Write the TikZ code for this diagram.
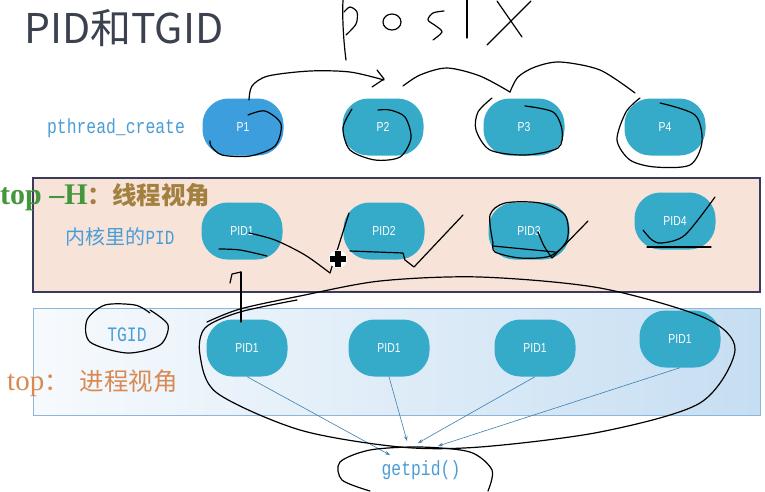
\documentclass[tikz,border=0pt]{standalone}
\usepackage{fontspec}
\setmainfont{Liberation Sans}
\newfontfamily\cjkfont{Noto Sans CJK SC}
\newfontfamily\monofont{Liberation Mono}[FakeStretch=0.8]
\newfontfamily\narrowfont{Liberation Sans}[FakeStretch=0.8]
\newfontfamily\seriffont{Liberation Serif}
\usetikzlibrary{arrows.meta}

\definecolor{nodeteal}{HTML}{36ABC9}
\definecolor{nodeblue}{HTML}{3C9EDD}
\definecolor{pinkbg}{HTML}{F8E3D9}
\definecolor{frame}{HTML}{3A3A5C}
\definecolor{bluebgL}{HTML}{F7FAFD}
\definecolor{bluebgR}{HTML}{C6DEF2}
\definecolor{blueframe}{HTML}{8DB6DA}
\definecolor{labelblue}{HTML}{4A9DD6}
\definecolor{arrowblue}{HTML}{3E7FB0}
\definecolor{titlegray}{HTML}{3C4150}
\definecolor{topgreen}{HTML}{45973E}
\definecolor{topbrown}{HTML}{A2803F}
\definecolor{toporange}{HTML}{D88A52}

\tikzset{
  pbox/.style={rectangle, rounded corners=26pt, minimum width=81pt, minimum height=57pt,
    fill=nodeteal, text=white, inner sep=0pt, font=\narrowfont\fontsize{13}{13}\selectfont},
  monolabel/.style={inner sep=0pt, text=labelblue, font=\monofont\fontsize{20.5}{20.5}\selectfont},
  ink/.style={line width=1.2pt, line cap=round, line join=round, black},
  getarrow/.style={arrowblue, line width=0.6pt, -{Stealth[length=5pt,width=3.5pt]}},
}

\begin{document}
\begin{tikzpicture}[x=1pt,y=-1pt]
		%%%%% START %%%%%
		\useasboundingbox (0,0) rectangle (765,491);
		\fill[white] (0,0) rectangle (765,491);
		
		\node[anchor=base west, inner sep=0pt, text=titlegray, font=\cjkfont\fontsize{41}{41}\selectfont] (title) at (24,43) {PID和TGID};
		
		\draw[fill=pinkbg, draw=frame, line width=1.5pt] (33,178) rectangle (760,292);
		\shade[left color=bluebgL, right color=bluebgR] (33,308) rectangle (760,415);
		\draw[blueframe, line width=1pt] (33,308) rectangle (760,415);
		
		\node[monolabel] (pthr) at (116,128) {pthread\_create};
		\node[inner sep=0pt, text=labelblue, font=\cjkfont\fontsize{20}{20}\selectfont] (kern) at (120,237) {内核里的{\monofont PID}};
		\node[monolabel] (tgid) at (127,335) {TGID};
		\node[monolabel] (getpid) at (421,470) {getpid()};
		
		\node[anchor=west, inner sep=0pt, font=\fontsize{24.5}{24.5}\selectfont] (toph) at (0,197)
			{\textcolor{topgreen}{\seriffont\bfseries\fontsize{30}{30}\selectfont top –H}\textcolor{topbrown}{\cjkfont\bfseries ：线程视角}};
		\node[anchor=west, inner sep=0pt, text=toporange, font=\fontsize{24.5}{24.5}\selectfont] (topp) at (7,383)
			{{\seriffont\fontsize{29}{29}\selectfont top}{\cjkfont ：\ \ 进程视角}};
		
		\node[pbox, fill=nodeblue] (p1) at (243,127) {P1};
		\node[pbox] (p2) at (383,127) {P2};
		\node[pbox] (p3) at (524,127) {P3};
		\node[pbox] (p4) at (665,127) {P4};
		
		\node[pbox] (k1) at (242,231) {PID1};
		\node[pbox] (k2) at (384,231) {PID2};
		\node[pbox] (k3) at (529,231) {PID3};
		\node[pbox] (k4) at (675,221) {PID4};
		
		\node[pbox] (t1) at (247,348) {PID1};
		\node[pbox] (t2) at (389,348) {PID1};
		\node[pbox] (t3) at (535,348) {PID1};
		\node[pbox] (t4) at (680,339) {PID1};
		
		\coordinate (ga) at (390,455);
		\coordinate (gb) at (407,441);
		\coordinate (gc) at (418,443);
		\coordinate (gd) at (438,446);
		\draw[getarrow] (t1.south) -- (ga);
		\draw[getarrow] (t2.south) -- (gb);
		\draw[getarrow] (t3.south) -- (gc);
		\draw[getarrow] (t4.south) -- (gd);
		
		% posix
		\draw[ink] (343,0) .. controls (342,20) and (344,45) .. (346,60);
		\draw[ink] plot[smooth] coordinates {(344,12) (350,7) (357,12) (356,24) (346,35)};
		\draw[ink] (392,22) ellipse [x radius=9pt, y radius=8pt];
		\draw[ink] plot[smooth] coordinates {(444,11) (433,13) (428,20) (436,26) (442,32) (433,40)};
		\draw[ink] (467,0) -- (467,38);
		\draw[ink] (487,45) -- (531,1);
		\draw[ink] (497,1) -- (522,37);
		
		\draw[ink] plot[smooth] coordinates {(249,100) (252,86) (268,76) (310,71) (350,72) (384,80)};
		\draw[ink] (377,70) -- (384,79) -- (372,87);
		\draw[ink] plot[smooth] coordinates {(403,86) (420,75) (447,68) (480,76) (510,92)};
		\draw[ink] plot[smooth] coordinates {(510,92) (518,77) (535,67) (560,62) (600,70) (635,93)};
		
		\draw[ink] plot[smooth] coordinates {(248,115) (265,111) (281,124) (275,146) (250,156) (222,155) (211,146) (210,141)};
		\draw[ink] plot[smooth] coordinates {(352,109) (343,128) (350,150) (375,160) (400,157) (411,138) (405,117) (390,110) (378,110)};
		\draw[ink] plot[smooth] coordinates {(492,98) (478,112) (476,130) (490,150) (525,155) (558,148) (562,130) (553,112) (525,106)};
		\draw[ink] plot[smooth] coordinates {(640,98) (626,112) (617,140) (630,160) (655,167) (690,165) (702,142) (695,115) (660,103)};
		
		\draw[ink] plot[smooth] coordinates {(249,233) (275,240) (305,255) (330,273)};
		\draw[ink] (330,273) -- (349,213);
		\draw[ink] plot[smooth] coordinates {(219,249) (240,250) (267,256)};
		\draw[ink] (350,251) -- (403,253) -- (405,260) -- (414,267) -- (463,215);
		\draw[ink] plot[smooth] coordinates {(493,243) (490,215) (505,203) (540,203) (565,215) (567,240) (550,256) (520,258) (495,252) (493,243)};
		\draw[ink] (493,246) -- (555,252);
		\draw[ink] plot[smooth] coordinates {(538,232) (544,246) (552,258)};
		\draw[ink] (552,258) -- (588,221);
		\draw[ink] plot[smooth] coordinates {(643,230) (652,240) (662,243) (685,235) (715,197)};
		\draw[ink] (647,247) -- (711,247);
		
		\fill[white] (338,259) circle (9);
		\fill[black] (335,251) rectangle (341,267);
		\fill[black] (330,256) rectangle (346,262);
		
		\draw[ink] (241,322) -- (241,272);
		\draw[ink] (230,283) -- (232,274) -- (241,272);
		
		\draw[ink] plot[smooth] coordinates {(297,300) (240,312) (205,328) (200,355) (217,393) (300,430) (400,447) (480,447) (600,432) (700,403) (735,350) (705,318) (600,288) (480,277) (380,281) (300,296) (240,309) (207,322)};
		\draw[ink] plot[smooth] coordinates {(150,313) (135,305) (105,305) (87,320) (90,342) (127,353) (160,345) (168,325) (150,310)};
		\draw[ink] plot[smooth] coordinates {(488,491) (492,470) (470,452) (420,447) (370,450) (340,462) (342,480) (370,491)};
		
		%%%%% END %%%%%
\end{tikzpicture}
\end{document}
